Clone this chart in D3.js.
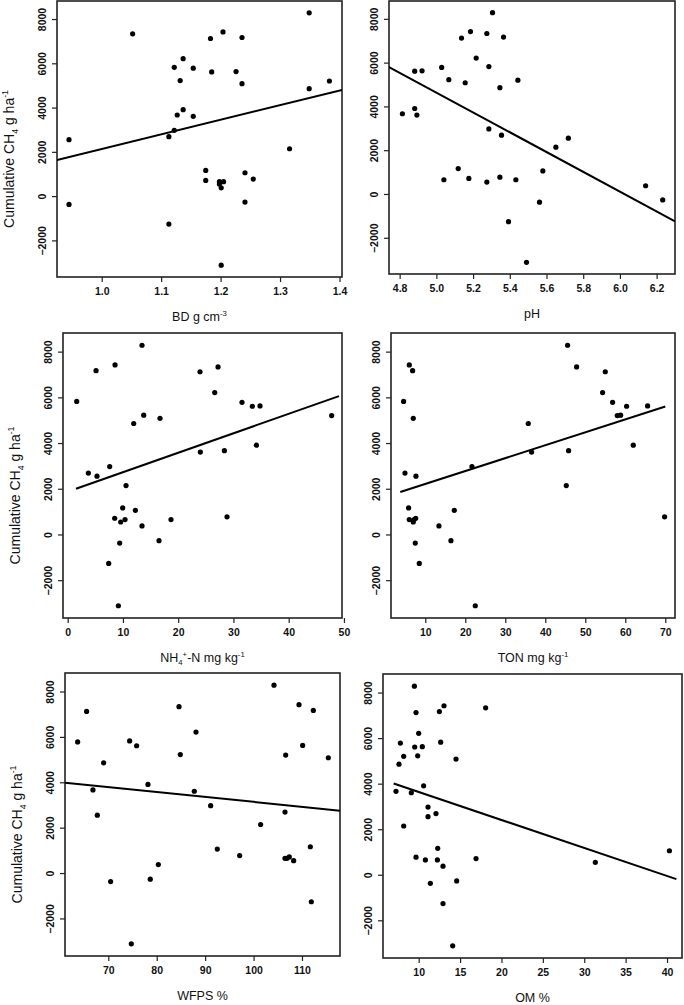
<!DOCTYPE html>
<html>
<head>
<meta charset="utf-8">
<script src="https://cdn.jsdelivr.net/npm/d3@7"></script>
<style>
  html, body { margin: 0; padding: 0; background: #fff; }
  svg { display: block; }
  text { font-family: "Liberation Sans", Arial, sans-serif; fill: #111; }
</style>
</head>
<body>
<svg id="chart" width="684" height="1005"></svg>
<script>
// ---------------- DATA ----------------
const yTicks = [-2000, 0, 2000, 4000, 6000, 8000];
const yLimits = [-3655, 8815];

// Panel 1: bulk density
const bdX = [0.945, 0.945, 1.052, 1.122, 1.137, 1.132, 1.154, 1.183, 1.204, 1.236, 1.185, 1.226, 1.236, 1.349, 1.349, 1.383, 1.127, 1.137, 1.154, 1.122, 1.113, 1.316, 1.175, 1.175, 1.198, 1.205, 1.198, 1.201, 1.241, 1.255, 1.241, 1.113, 1.201];
const bdY = [2550, -376, 7330, 5820, 6210, 5220, 5780, 7120, 7420, 7165, 5610, 5625, 5080, 8280, 4855, 5200, 3665, 3905, 3605, 2970, 2685, 2140, 1160, 710, 650, 650, 545, 375, 1055, 770, -270, -1265, -3120];
const bdTicks = [1.0, 1.1, 1.2, 1.3, 1.4];
const bdLimits = [0.9248, 1.4042];
const bdFit = [-4496, 6619];      // intercept, slope
const bdFitRange = null;          // full width (abline)

// Panel 2: pH
const phX = [4.815, 4.882, 4.922, 4.882, 4.894, 5.029, 5.068, 5.041, 5.119, 5.137, 5.186, 5.217, 5.157, 5.177, 5.275, 5.306, 5.286, 5.366, 5.346, 5.444, 5.286, 5.355, 5.275, 5.346, 5.433, 5.393, 5.491, 5.562, 5.580, 5.651, 5.719, 6.140, 6.233];
const phY = [3665, 5610, 5625, 3905, 3605, 5780, 5220, 650, 1160, 7120, 7420, 6210, 5080, 710, 7330, 8280, 5820, 7165, 4855, 5200, 2970, 2685, 545, 770, 650, -1265, -3120, -376, 1055, 2140, 2550, 375, -270];
const phTicks = [4.8, 5.0, 5.2, 5.4, 5.6, 5.8, 6.0, 6.2];
const phLimits = [4.742, 6.30];
const phFit = [27229, -4520];
const phFitRange = null;

// Panel 3: NH4+-N
const nh4X = [1.63, 3.74, 5.31, 5.13, 7.60, 8.57, 7.42, 8.51, 9.59, 9.95, 10.38, 9.41, 9.17, 10.56, 11.95, 13.45, 12.25, 13.45, 16.53, 18.70, 24.01, 23.95, 27.21, 26.61, 28.36, 28.84, 31.55, 33.42, 34.81, 34.15, 47.78, 16.71, 13.76];
const nh4Y = [5820, 2685, 2550, 7165, 2970, 7420, -1265, 710, 545, 1160, 650, -376, -3120, 2140, 4855, 375, 1055, 8280, -270, 650, 3605, 7120, 7330, 6210, 3665, 770, 5780, 5610, 5625, 3905, 5200, 5080, 5220];
const nh4Ticks = [0, 10, 20, 30, 40, 50];
const nh4Limits = [-0.85, 49.65];
const nh4Fit = [1875, 85.1];
const nh4FitRange = [1.5, 49.1];

// Panel 4: TON
const tonX = [4.58, 6.0, 6.83, 7.0, 4.92, 7.67, 5.83, 6.0, 7.0, 7.6, 7.2, 7.5, 8.5, 13.42, 16.42, 17.25, 21.67, 22.5, 35.75, 36.58, 45.25, 45.58, 45.83, 47.83, 54.33, 55.0, 56.83, 58.0, 58.83, 60.33, 65.58, 62.0, 69.83];
const tonY = [5820, 7420, 7165, 5080, 2685, 2550, 1160, 650, 545, 710, 650, -376, -1265, 375, -270, 1055, 2970, -3120, 4855, 3605, 2140, 8280, 3665, 7330, 6210, 7120, 5780, 5200, 5220, 5610, 5625, 3905, 770];
const tonTicks = [10, 20, 30, 40, 50, 60, 70];
const tonLimits = [1.43, 72.43];
const tonFit = [1645, 56.5];
const tonFitRange = [3.75, 70];

// Panel 5: WFPS
const wfpsX = [63.67, 65.52, 66.83, 67.73, 69.04, 70.48, 74.41, 74.75, 75.85, 78.19, 78.67, 80.33, 84.60, 84.87, 88.11, 87.76, 91.14, 92.51, 97.13, 101.46, 104.22, 106.63, 106.49, 106.49, 107.38, 108.28, 109.38, 110.14, 112.34, 111.72, 111.93, 115.44, 106.9];
const wfpsY = [5780, 7120, 3665, 2550, 4855, -376, 5820, -3120, 5610, 3905, -270, 375, 7330, 5220, 6210, 3605, 2970, 1055, 770, 2140, 8280, 5200, 2685, 650, 710, 545, 7420, 5625, 7165, 1160, -1265, 5080, 650];
const wfpsTicks = [70, 80, 90, 100, 110];
const wfpsLimits = [61.06, 117.85];
const wfpsFit = [5312, -21.74];
const wfpsFitRange = null;

// Panel 6: OM
const omX = [7.26, 7.62, 7.79, 8.19, 8.19, 9.11, 9.48, 9.68, 10.0, 9.52, 9.88, 10.44, 9.68, 10.60, 11.13, 11.13, 10.81, 11.41, 12.09, 12.30, 12.26, 12.94, 12.50, 13.06, 12.66, 12.94, 14.51, 14.59, 14.11, 16.93, 18.09, 31.34, 40.29];
const omY = [3665, 4855, 5780, 5200, 2140, 3605, 8280, 7120, 6210, 5610, 5220, 5625, 770, 3905, 2970, 2550, 650, -376, 2685, 1160, 650, 375, 7165, 7420, 5820, -1265, 5080, -270, -3120, 710, 7330, 545, 1055];
const omTicks = [10, 15, 20, 25, 30, 35, 40];
const omLimits = [5.69, 41.81];
const omFit = [4865, -122.9];
const omFitRange = [6.98, 41.13];

// ---------------- LAYOUT ----------------
const panels = [
  { x: bdX,   y: bdY,   ticks: bdTicks,   lim: bdLimits,   fit: bdFit,   fr: bdFitRange,   fmt: d3.format(".1f"),
    box: { l: 57,  r: 342, t: 1,   b: 277 }, ylab: true,  xlab: [["BD g cm", 0], ["-3", 1]] },
  { x: phX,   y: phY,   ticks: phTicks,   lim: phLimits,   fit: phFit,   fr: phFitRange,   fmt: d3.format(".1f"),
    box: { l: 389, r: 675, t: 1,   b: 274 }, ylab: false, xlab: [["pH", 0]] },
  { x: nh4X,  y: nh4Y,  ticks: nh4Ticks,  lim: nh4Limits,  fit: nh4Fit,  fr: nh4FitRange,  fmt: d3.format("d"),
    box: { l: 63,  r: 342, t: 333, b: 618 }, ylab: true,  xlab: [["NH", 0], ["4", -1], ["+", 1], ["-N mg kg", 0], ["-1", 1]] },
  { x: tonX,  y: tonY,  ticks: tonTicks,  lim: tonLimits,  fit: tonFit,  fr: tonFitRange,  fmt: d3.format("d"),
    box: { l: 391, r: 675, t: 333, b: 618 }, ylab: false, xlab: [["TON mg kg", 0], ["-1", 1]] },
  { x: wfpsX, y: wfpsY, ticks: wfpsTicks, lim: wfpsLimits, fit: wfpsFit, fr: wfpsFitRange, fmt: d3.format("d"),
    box: { l: 65,  r: 340, t: 673, b: 956 }, ylab: true,  xlab: [["WFPS %", 0]] },
  { x: omX,   y: omY,   ticks: omTicks,   lim: omLimits,   fit: omFit,   fr: omFitRange,   fmt: d3.format("d"),
    box: { l: 383, r: 682, t: 674, b: 958 }, ylab: false, xlab: [["OM %", 0]] }
];

const svg = d3.select("#chart");
const tickFont = 10.5;

function addRich(textSel, parts, baseSize) {
  let prev = 0;
  parts.forEach(([s, kind]) => {
    const shift = kind === 1 ? -0.42 * baseSize : (kind === -1 ? 0.25 * baseSize : 0);
    textSel.append("tspan").text(s)
      .attr("dy", (shift - prev).toFixed(2))
      .style("font-size", (kind === 0 ? baseSize : baseSize * 0.62) + "px");
    prev = shift;
  });
}

panels.forEach((p, i) => {
  const { l, r, t, b } = p.box;
  const x = d3.scaleLinear().domain(p.lim).range([l, r]);
  const y = d3.scaleLinear().domain(yLimits).range([b, t]);
  const g = svg.append("g").attr("class", "panel" + i);

  const clipId = "clip" + i;
  g.append("clipPath").attr("id", clipId)
    .append("rect").attr("x", l).attr("y", t).attr("width", r - l).attr("height", b - t);

  // x axis
  const xa = g.append("g").attr("transform", `translate(0,${b})`)
    .call(d3.axisBottom(x).tickValues(p.ticks).tickFormat(p.fmt).tickSize(5).tickPadding(6));
  xa.select(".domain").remove();
  xa.selectAll("line").attr("stroke", "#222").attr("stroke-width", 1.2);
  xa.selectAll("text").style("font-size", tickFont + "px").style("font-weight", "bold")
    .attr("fill", "#111").style("font-family", "'Liberation Sans', Arial, sans-serif");

  // y axis
  const ya = g.append("g").attr("transform", `translate(${l},0)`)
    .call(d3.axisLeft(y).tickValues(yTicks).tickFormat(d3.format("d")).tickSize(5));
  ya.select(".domain").remove();
  ya.selectAll("line").attr("stroke", "#222").attr("stroke-width", 1.2);
  ya.selectAll("text")
    .attr("x", 0).attr("y", -11).attr("dy", null)
    .attr("transform", "rotate(-90)")
    .attr("text-anchor", "middle")
    .style("font-size", tickFont + "px").style("font-weight", "bold")
    .attr("fill", "#111").style("font-family", "'Liberation Sans', Arial, sans-serif");

  // box
  g.append("rect").attr("x", l).attr("y", t).attr("width", r - l).attr("height", b - t)
    .attr("fill", "none").attr("stroke", "#222").attr("stroke-width", 1.6);

  // fit line
  const fx = p.fr ? p.fr : p.lim;
  const lineData = fx.map(v => [v, p.fit[0] + p.fit[1] * v]);
  g.append("path").datum(lineData)
    .attr("clip-path", `url(#${clipId})`)
    .attr("d", d3.line().x(d => x(d[0])).y(d => y(d[1])))
    .attr("fill", "none").attr("stroke", "#000").attr("stroke-width", 2);

  // points
  g.append("g").selectAll("circle").data(p.x.map((v, k) => [v, p.y[k]]))
    .join("circle")
    .attr("cx", d => x(d[0])).attr("cy", d => y(d[1])).attr("r", 2.6)
    .attr("fill", "#000");

  // x title
  const xt = g.append("text")
    .attr("x", (l + r) / 2).attr("y", b + 44)
    .attr("text-anchor", "middle")
    .style("font-size", "12.5px");
  addRich(xt, p.xlab, 12.5);

  // y title
  if (p.ylab) {
    const cy = (t + b) / 2 + 20;
    const yt = g.append("text")
      .attr("transform", `translate(${l - 43},${cy}) rotate(-90)`)
      .attr("text-anchor", "middle")
      .style("font-size", "14px");
    addRich(yt, [["Cumulative CH", 0], ["4", -1], [" g ha", 0], ["-1", 1]], 14);
  }
});
</script>
</body>
</html>
